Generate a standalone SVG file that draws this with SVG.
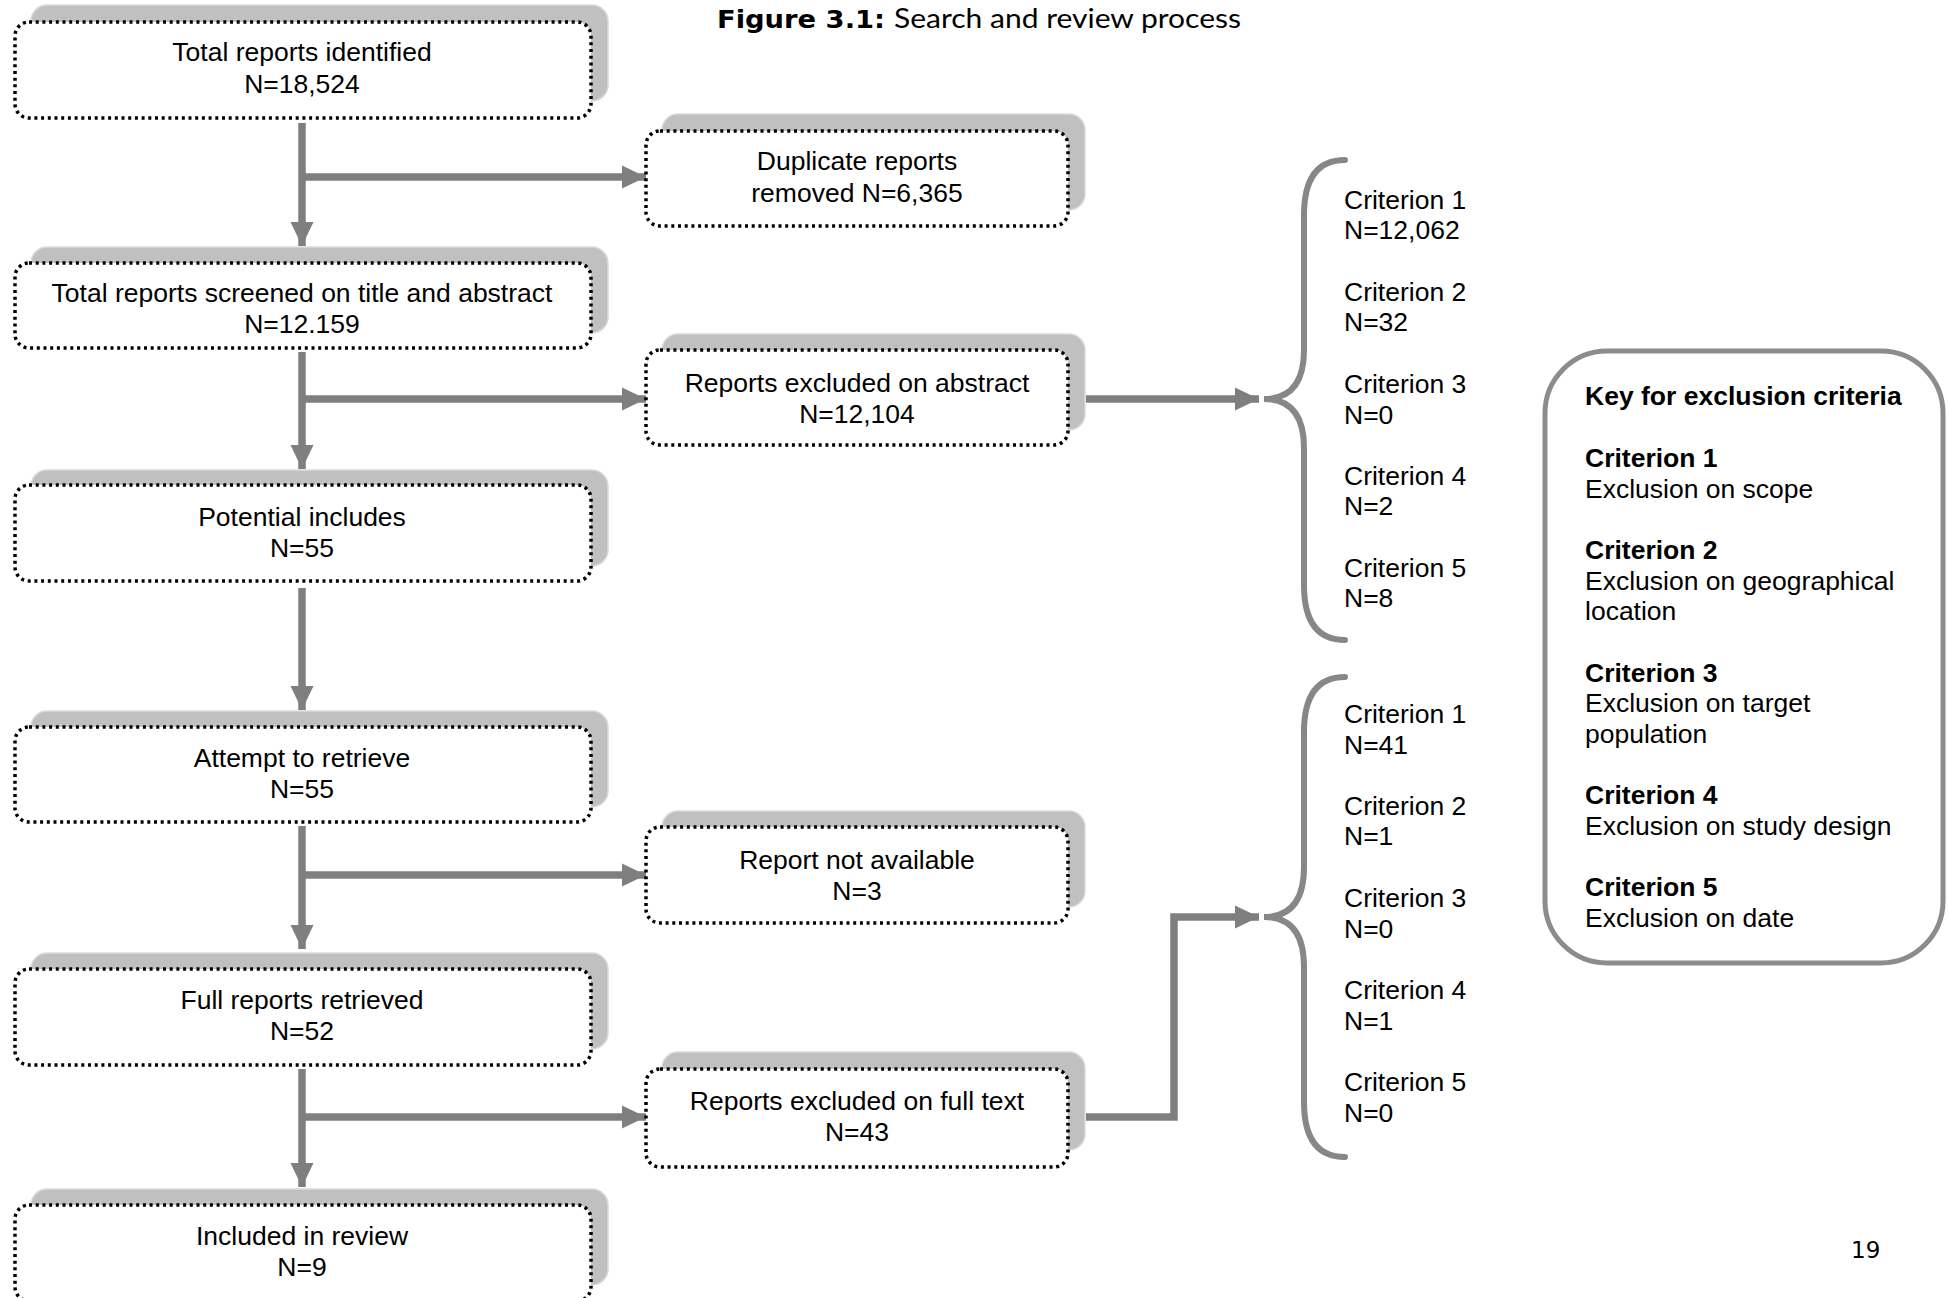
<svg xmlns="http://www.w3.org/2000/svg" width="1948" height="1298" viewBox="0 0 1948 1298">
<style>
  .sh{fill:#c0c0c0;stroke:#dadada;stroke-width:1.5}
  .bx{fill:#ffffff;stroke:#000;stroke-width:3.5;stroke-dasharray:3 3.7}
  .t{font-family:"Liberation Sans",Arial,sans-serif;font-size:26.5px;fill:#000}
  .c{text-anchor:middle}
  .b{font-weight:bold}
  .ln{fill:none;stroke:#7f7f7f;stroke-width:7.5}
  .br{fill:none;stroke:#878787;stroke-width:6;stroke-linecap:round}
</style>
<defs>
  <marker id="ah" markerUnits="userSpaceOnUse" markerWidth="26" markerHeight="30" refX="24" refY="15" orient="auto">
    <path d="M0,3.5 L24,15 L0,26.5 Z" fill="#7f7f7f"/>
  </marker>
</defs>
<rect width="1948" height="1298" fill="#ffffff"/>

<g id="title">
  <text x="717" y="28" font-family="'DejaVu Sans',Verdana,sans-serif" font-weight="bold" font-size="25" textLength="168" lengthAdjust="spacingAndGlyphs">Figure 3.1:</text>
  <text x="894" y="28" font-family="Lato,'Open Sans',sans-serif" font-size="27" textLength="347" lengthAdjust="spacingAndGlyphs">Search and review process</text>
</g>

<g id="connectors">
  <line class="ln" x1="302" y1="123" x2="302" y2="246" marker-end="url(#ah)"/>
  <line class="ln" x1="302" y1="177" x2="646" y2="177" marker-end="url(#ah)"/>
  <line class="ln" x1="302" y1="352" x2="302" y2="469" marker-end="url(#ah)"/>
  <line class="ln" x1="302" y1="399" x2="646" y2="399" marker-end="url(#ah)"/>
  <line class="ln" x1="302" y1="588" x2="302" y2="710" marker-end="url(#ah)"/>
  <line class="ln" x1="302" y1="826" x2="302" y2="949" marker-end="url(#ah)"/>
  <line class="ln" x1="302" y1="875" x2="646" y2="875" marker-end="url(#ah)"/>
  <line class="ln" x1="302" y1="1069" x2="302" y2="1187" marker-end="url(#ah)"/>
  <line class="ln" x1="302" y1="1117" x2="646" y2="1117" marker-end="url(#ah)"/>
  <line class="ln" x1="1086" y1="399" x2="1259" y2="399" marker-end="url(#ah)"/>
  <polyline class="ln" points="1086,1117 1174,1117 1174,917 1259,917" marker-end="url(#ah)"/>
  <path class="br" d="M1345,160 Q1304,160 1304,215 L1304,350 Q1304,399 1264,399 Q1304,399 1304,448 L1304,585 Q1304,640 1345,640"/>
  <path class="br" d="M1345,677 Q1304,677 1304,732 L1304,867 Q1304,917 1264,917 Q1304,917 1304,967 L1304,1102 Q1304,1157 1345,1157"/>
</g>

<g id="n1">
  <rect class="sh" x="31" y="5" width="577" height="96" rx="16"/>
  <rect class="bx" x="15" y="22" width="576" height="96" rx="14"/>
  <text class="t c" x="302" y="61">Total reports identified</text>
  <text class="t c" x="302" y="93">N=18,524</text>
</g>
<g id="n2">
  <rect class="sh" x="31" y="247" width="577" height="86" rx="16"/>
  <rect class="bx" x="15" y="263" width="576" height="85" rx="14"/>
  <text class="t c" x="302" y="302">Total reports screened on title and abstract</text>
  <text class="t c" x="302" y="333">N=12.159</text>
</g>
<g id="n3">
  <rect class="sh" x="31" y="470" width="577" height="96" rx="16"/>
  <rect class="bx" x="15" y="485" width="576" height="96" rx="14"/>
  <text class="t c" x="302" y="526">Potential includes</text>
  <text class="t c" x="302" y="557">N=55</text>
</g>
<g id="n4">
  <rect class="sh" x="31" y="711" width="577" height="96" rx="16"/>
  <rect class="bx" x="15" y="727" width="576" height="95" rx="14"/>
  <text class="t c" x="302" y="767">Attempt to retrieve</text>
  <text class="t c" x="302" y="798">N=55</text>
</g>
<g id="n5">
  <rect class="sh" x="31" y="953" width="577" height="96" rx="16"/>
  <rect class="bx" x="15" y="969" width="576" height="96" rx="14"/>
  <text class="t c" x="302" y="1009">Full reports retrieved</text>
  <text class="t c" x="302" y="1040">N=52</text>
</g>
<g id="n6">
  <rect class="sh" x="31" y="1189" width="577" height="96" rx="16"/>
  <rect class="bx" x="15" y="1205" width="576" height="96" rx="14"/>
  <text class="t c" x="302" y="1245">Included in review</text>
  <text class="t c" x="302" y="1276">N=9</text>
</g>

<g id="nA">
  <rect class="sh" x="662" y="114" width="423" height="96" rx="16"/>
  <rect class="bx" x="646" y="131" width="422" height="95" rx="14"/>
  <text class="t c" x="857" y="170">Duplicate reports</text>
  <text class="t c" x="857" y="202">removed N=6,365</text>
</g>
<g id="nB">
  <rect class="sh" x="662" y="334" width="423" height="96" rx="16"/>
  <rect class="bx" x="646" y="350" width="422" height="95" rx="14"/>
  <text class="t c" x="857" y="392">Reports excluded on abstract</text>
  <text class="t c" x="857" y="423">N=12,104</text>
</g>
<g id="nC">
  <rect class="sh" x="662" y="811" width="423" height="96" rx="16"/>
  <rect class="bx" x="646" y="827" width="422" height="96" rx="14"/>
  <text class="t c" x="857" y="869">Report not available</text>
  <text class="t c" x="857" y="900">N=3</text>
</g>
<g id="nD">
  <rect class="sh" x="662" y="1052" width="423" height="98" rx="16"/>
  <rect class="bx" x="646" y="1069" width="422" height="98" rx="14"/>
  <text class="t c" x="857" y="1110">Reports excluded on full text</text>
  <text class="t c" x="857" y="1141">N=43</text>
</g>

<g id="criteria-abstract">
  <text class="t" x="1344" y="209">Criterion 1</text>
  <text class="t" x="1344" y="239">N=12,062</text>
  <text class="t" x="1344" y="301">Criterion 2</text>
  <text class="t" x="1344" y="331">N=32</text>
  <text class="t" x="1344" y="393">Criterion 3</text>
  <text class="t" x="1344" y="424">N=0</text>
  <text class="t" x="1344" y="485">Criterion 4</text>
  <text class="t" x="1344" y="515">N=2</text>
  <text class="t" x="1344" y="577">Criterion 5</text>
  <text class="t" x="1344" y="607">N=8</text>
</g>

<g id="criteria-fulltext">
  <text class="t" x="1344" y="723">Criterion 1</text>
  <text class="t" x="1344" y="754">N=41</text>
  <text class="t" x="1344" y="815">Criterion 2</text>
  <text class="t" x="1344" y="845">N=1</text>
  <text class="t" x="1344" y="907">Criterion 3</text>
  <text class="t" x="1344" y="938">N=0</text>
  <text class="t" x="1344" y="999">Criterion 4</text>
  <text class="t" x="1344" y="1030">N=1</text>
  <text class="t" x="1344" y="1091">Criterion 5</text>
  <text class="t" x="1344" y="1122">N=0</text>
</g>

<g id="key">
  <rect x="1545" y="351" width="398" height="612" rx="62" fill="none" stroke="#8c8c8c" stroke-width="5"/>
  <text class="t b" x="1585" y="405">Key for exclusion criteria</text>
  <text class="t b" x="1585" y="467">Criterion 1</text>
  <text class="t" x="1585" y="498">Exclusion on scope</text>
  <text class="t b" x="1585" y="559">Criterion 2</text>
  <text class="t" x="1585" y="590">Exclusion on geographical</text>
  <text class="t" x="1585" y="620">location</text>
  <text class="t b" x="1585" y="682">Criterion 3</text>
  <text class="t" x="1585" y="712">Exclusion on target</text>
  <text class="t" x="1585" y="743">population</text>
  <text class="t b" x="1585" y="804">Criterion 4</text>
  <text class="t" x="1585" y="835">Exclusion on study design</text>
  <text class="t b" x="1585" y="896">Criterion 5</text>
  <text class="t" x="1585" y="927">Exclusion on date</text>
</g>

<text id="page" x="1851" y="1258" font-family="'DejaVu Sans',Verdana,sans-serif" font-size="23" fill="#000">19</text>
</svg>
